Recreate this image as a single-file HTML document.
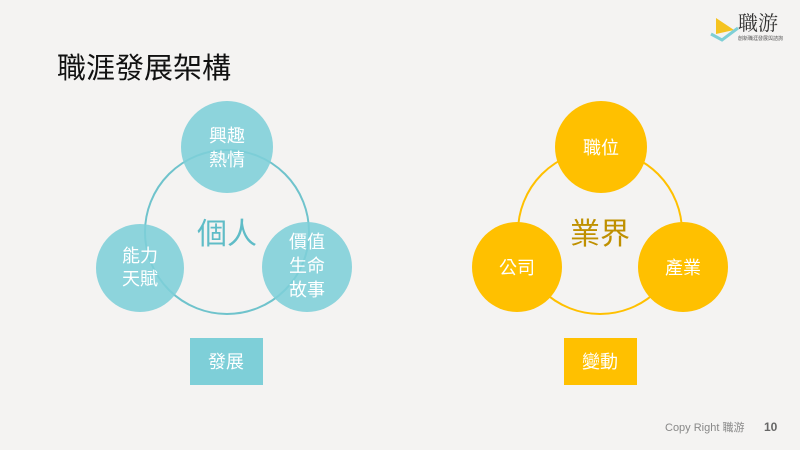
<!DOCTYPE html>
<html><head><meta charset="utf-8"><style>
body{margin:0;width:800px;height:450px;background:#f4f3f2;overflow:hidden;font-family:"Liberation Sans","Noto Sans CJK TC",sans-serif}
</style></head><body>
<svg width="800" height="450" xmlns="http://www.w3.org/2000/svg" style="position:absolute;left:0;top:0;font-family:'Liberation Sans','Noto Sans CJK TC',sans-serif">
<text x="57" y="78" font-size="29" fill="#111">職涯發展架構</text>
<polygon points="716,18 716,34 734,30" fill="#f5c320"/>
<path d="M711,34 L722,40 L738,28" stroke="#7ecfd6" stroke-width="3" fill="none"/>
<text x="738" y="30" font-size="20" fill="#333" font-family="'Noto Serif CJK SC',serif">職游</text>
<text x="738" y="40" font-size="5" fill="#555">創新職涯發展與諮詢</text>
<circle cx="227" cy="232" r="82" fill="none" stroke="#6fc3cc" stroke-width="2"/>
<g fill="#7ecfd8" fill-opacity="0.88">
<circle cx="227" cy="147" r="46"/><circle cx="140" cy="268" r="44"/><circle cx="307" cy="267" r="45"/></g>
<g fill="#fff" font-size="18" text-anchor="middle">
<text x="227" y="142">興趣</text><text x="227" y="166">熱情</text>
<text x="140" y="262">能力</text><text x="140" y="285">天賦</text>
<text x="307" y="248">價值</text><text x="307" y="272">生命</text><text x="307" y="296">故事</text></g>
<text x="227" y="244" font-size="30" fill="#5fbcc7" text-anchor="middle">個人</text>
<rect x="190" y="338" width="73" height="47" fill="#7ecfd8"/>
<text x="226" y="368" font-size="18" fill="#fff" text-anchor="middle">發展</text>
<circle cx="600" cy="232" r="82" fill="none" stroke="#ffc000" stroke-width="2"/>
<g fill="#ffc000">
<circle cx="601" cy="147" r="46"/><circle cx="517" cy="267" r="45"/><circle cx="683" cy="267" r="45"/></g>
<g fill="#fff" font-size="18" text-anchor="middle">
<text x="601" y="154">職位</text><text x="517" y="274">公司</text><text x="683" y="274">產業</text></g>
<text x="600" y="244" font-size="30" fill="#bf9000" text-anchor="middle">業界</text>
<rect x="564" y="338" width="73" height="47" fill="#ffc000"/>
<text x="600" y="368" font-size="18" fill="#fff" text-anchor="middle">變動</text>
<text x="665" y="431" font-size="11" fill="#888">Copy Right 職游</text>
<text x="764" y="431" font-size="12" font-weight="bold" fill="#666">10</text>
</svg>
</body></html>
